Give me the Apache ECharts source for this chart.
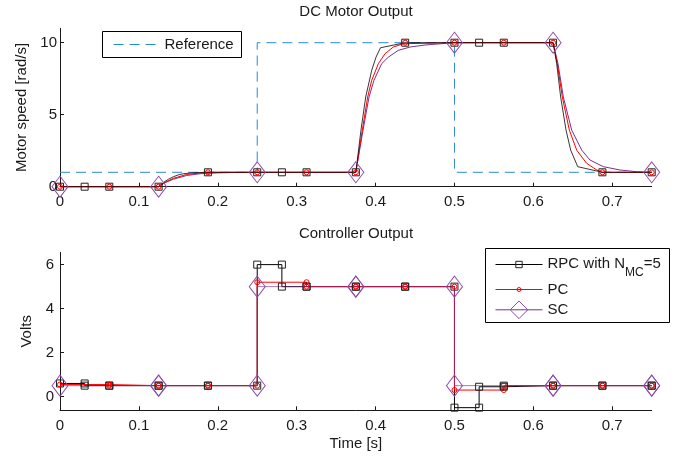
<!DOCTYPE html>
<html>
<head>
<meta charset="utf-8">
<script src="https://cdn.jsdelivr.net/npm/echarts@6/dist/echarts.min.js"></script>
<style>
  html, body { margin: 0; padding: 0; background: #fff; }
  #chart { width: 690px; height: 457px; }
</style>
</head>
<body>
<div id="chart"></div>
<script>
// Controller sample instants [s]
const rpcSampleTimes = [0, 0.03125, 0.0625, 0.125, 0.1875, 0.25, 0.28125, 0.3125, 0.375, 0.4375, 0.5, 0.53125, 0.5625, 0.625, 0.6875, 0.75];
const pcSampleTimes = [0, 0.0625, 0.125, 0.1875, 0.25, 0.3125, 0.375, 0.4375, 0.5, 0.5625, 0.625, 0.6875, 0.75];
const scSampleTimes = [0, 0.125, 0.25, 0.375, 0.5, 0.625, 0.75];

// Speed set-point [rad/s], held from each breakpoint to the next
const refTimes = [0, 0.25, 0.5, 0.75];
const refSpeed = [1, 10, 1, 1];

// Motor speed traces [rad/s]
const rpcSpeedTimes = [0, 0.03125, 0.0625, 0.125, 0.1313, 0.1375, 0.1437, 0.15, 0.15625, 0.169, 0.1875, 0.25, 0.28125, 0.3125, 0.375, 0.3815, 0.3875, 0.3951, 0.4006, 0.40625, 0.4375, 0.5, 0.53125, 0.5625, 0.625, 0.6296, 0.6346, 0.6414, 0.6473, 0.65625, 0.6875, 0.75];
const rpcSpeed      = [0, 0, 0, 0, 0.3, 0.52, 0.69, 0.82, 0.9, 0.97, 1, 1, 1, 1, 1, 3.93, 6.23, 8.08, 9.0, 9.65, 10, 10, 10, 10, 10, 8.54, 6.23, 3.93, 2.54, 1.39, 1, 1];

const pcSpeedTimes = [0, 0.0625, 0.125, 0.1331, 0.1437, 0.1606, 0.1775, 0.1875, 0.25, 0.3125, 0.375, 0.3832, 0.39, 0.3951, 0.4035, 0.412, 0.4225, 0.4352, 0.4375, 0.5, 0.5625, 0.625, 0.6304, 0.6367, 0.6456, 0.6549, 0.6676, 0.6803, 0.6875, 0.75];
const pcSpeed      = [0, 0, 0, 0.3, 0.58, 0.85, 0.95, 1, 1, 1, 1, 3.93, 6.23, 7.39, 8.54, 9.24, 9.7, 9.93, 10, 10, 10, 10, 8.54, 6.23, 3.93, 2.54, 1.62, 1.16, 1, 1];

const scSpeedTimes = [0, 0.125, 0.1331, 0.1437, 0.1606, 0.1775, 0.2, 0.22, 0.25, 0.375, 0.3841, 0.3917, 0.398, 0.4077, 0.4162, 0.4289, 0.4437, 0.4627, 0.488, 0.5, 0.625, 0.6312, 0.638, 0.6486, 0.6613, 0.6718, 0.6887, 0.7098, 0.731, 0.75];
const scSpeed      = [0, 0, 0.28, 0.52, 0.78, 0.9, 0.96, 0.99, 1, 1, 3.93, 6.23, 7.39, 8.54, 9.0, 9.47, 9.7, 9.84, 9.95, 10, 10, 8.54, 6.23, 3.93, 2.54, 1.85, 1.39, 1.16, 1.04, 1];

// Controller voltages [V] at the sample instants
const rpcVolts = [0.6, 0.5, 0.5, 0.5, 0.5, 6.0, 5.0, 5.0, 5.0, 5.0, -0.5, 0.45, 0.5, 0.5, 0.5, 0.5];
const pcVolts  = [0.55, 0.5, 0.5, 0.5, 5.2, 5.0, 5.0, 5.0, 0.3, 0.5, 0.5, 0.5, 0.5];
const scVolts  = [0.5, 0.5, 5.0, 5.0, 0.5, 0.5, 0.5];

// Tick labels
const timeTicks = [0, 0.1, 0.2, 0.3, 0.4, 0.5, 0.6, 0.7];
const speedTicks = [0, 5, 10];
const voltTicks = [0, 2, 4, 6];

const FONT = "'Liberation Sans', Arial, Helvetica, sans-serif";
const INK = '#1a1a1a';
const C_RPC = '#000000';
const C_PC = '#ff0000';
const C_SC = '#7e2f8e';
const C_SC_MARK = '#8e4aac';
const C_REF = '#2b8ad3';
const CLEAR = 'rgba(0,0,0,0)';

// Zero-order-hold expansion: a vertex on both sides of every switching instant
function stairs(times, values) {
  const pts = [[times[0], values[0]]];
  for (let i = 1; i < times.length; i++) {
    pts.push([times[i], values[i - 1]]);
    pts.push([times[i], values[i]]);
  }
  return pts;
}

// Continuous trace with a marker only at the controller sample instants
function trace(times, values, sampleTimes, symbol) {
  return times.map((t, i) => ({
    value: [t, values[i]],
    symbol: sampleTimes.indexOf(t) >= 0 ? symbol : 'none'
  }));
}

function xAxis(gridIndex, name) {
  return {
    type: 'value', gridIndex, min: 0, max: 0.75,
    axisLine: { show: true, onZero: false, lineStyle: { color: INK, width: 1 } },
    axisTick: { show: true, inside: true, length: 4, customValues: timeTicks, lineStyle: { color: INK } },
    axisLabel: { customValues: timeTicks, color: INK, fontSize: 15, fontFamily: FONT, margin: 8 },
    splitLine: { show: false },
    name: name || '', nameLocation: 'middle', nameGap: 26,
    nameTextStyle: { color: INK, fontSize: 15, fontFamily: FONT }
  };
}

function yAxis(gridIndex, min, max, ticks, name, nameGap, margin) {
  return {
    type: 'value', gridIndex, min, max,
    axisLine: { show: true, onZero: false, lineStyle: { color: INK, width: 1 } },
    axisTick: { show: true, inside: true, length: 4, customValues: ticks, lineStyle: { color: INK } },
    axisLabel: { customValues: ticks, color: INK, fontSize: 15, fontFamily: FONT, margin },
    splitLine: { show: false },
    name, nameLocation: 'middle', nameGap,
    nameTextStyle: { color: INK, fontSize: 15, fontFamily: FONT }
  };
}

function legendFor(name, top, itemHeight, markColor, extra) {
  return Object.assign({
    data: [name], left: 495, top, padding: 0, itemWidth: 47, itemHeight, z: 12,
    selectedMode: false,
    lineStyle: { width: 1, opacity: 1 },
    itemStyle: { color: CLEAR, borderColor: markColor, borderWidth: 1 },
    textStyle: { fontSize: 15, fontFamily: FONT, color: INK }
  }, extra || {});
}

const common = { type: 'line', clip: false, animation: false, emphasis: { disabled: true } };

const option = {
  animation: false,
  backgroundColor: '#fff',
  grid: [
    { left: 60, top: 28.3, width: 591.7, height: 158.4 },
    { left: 60, top: 252.3, width: 591.7, height: 158 }
  ],
  xAxis: [xAxis(0), xAxis(1, 'Time [s]')],
  yAxis: [
    yAxis(0, 0, 11, speedTicks, 'Motor speed [rad/s]', 30, 3),
    yAxis(1, -0.62, 6.56, voltTicks, 'Volts', 22, 6)
  ],
  graphic: [
    { type: 'text', x: 356, y: 12, z: 20,
      style: { text: 'DC Motor Output', textAlign: 'center', textVerticalAlign: 'middle', fontSize: 15, fontFamily: FONT, fill: INK } },
    { type: 'text', x: 356, y: 234, z: 20,
      style: { text: 'Controller Output', textAlign: 'center', textVerticalAlign: 'middle', fontSize: 15, fontFamily: FONT, fill: INK } },
    { type: 'rect', z: 10, shape: { x: 102.5, y: 31.5, width: 139, height: 26 },
      style: { fill: '#fff', stroke: '#000', lineWidth: 1 } },
    { type: 'rect', z: 10, shape: { x: 485.5, y: 248.5, width: 184, height: 74 },
      style: { fill: '#fff', stroke: '#000', lineWidth: 1 } }
  ],
  legend: [
    { data: ['Reference'], left: 113, top: 37, padding: 0, itemWidth: 46, itemHeight: 14, z: 12,
      selectedMode: false,
      lineStyle: { width: 1 },
      itemStyle: { color: CLEAR, borderColor: CLEAR, borderWidth: 0, opacity: 0 },
      textStyle: { fontSize: 15, fontFamily: FONT, color: INK } },
    legendFor('RPC', 256.5, 8, '#222', {
      formatter: () => '{m|RPC with N}{s|MC}{m|=5}',
      textStyle: { fontSize: 15, fontFamily: FONT, color: INK,
        rich: {
          m: { fontSize: 15, fontFamily: FONT, color: INK, lineHeight: 16, verticalAlign: 'top' },
          s: { fontSize: 12, fontFamily: FONT, color: INK, lineHeight: 12, verticalAlign: 'top', padding: [10, 0, 0, 0] }
        } }
    }),
    legendFor('PC', 282, 5, C_PC),
    legendFor('SC', 300.5, 22, C_SC_MARK)
  ],
  series: [
    // --- DC motor output ---
    Object.assign({}, common, {
      name: 'Reference', xAxisIndex: 0, yAxisIndex: 0, step: 'end', symbol: 'none',
      data: refTimes.map((t, i) => [t, refSpeed[i]]),
      lineStyle: { color: C_REF, width: 1, type: [10, 6] }, itemStyle: { color: CLEAR }
    }),
    Object.assign({}, common, {
      name: 'SC speed', xAxisIndex: 0, yAxisIndex: 0,
      symbol: 'diamond', symbolSize: [16, 21],
      data: trace(scSpeedTimes, scSpeed, scSampleTimes, 'diamond'),
      lineStyle: { color: C_SC, width: 1 },
      itemStyle: { color: CLEAR, borderColor: C_SC_MARK, borderWidth: 1 }
    }),
    Object.assign({}, common, {
      name: 'PC speed', xAxisIndex: 0, yAxisIndex: 0,
      symbol: 'circle', symbolSize: 5,
      data: trace(pcSpeedTimes, pcSpeed, pcSampleTimes, 'circle'),
      lineStyle: { color: C_PC, width: 1 },
      itemStyle: { color: CLEAR, borderColor: C_PC, borderWidth: 1 }
    }),
    Object.assign({}, common, {
      name: 'RPC speed', xAxisIndex: 0, yAxisIndex: 0,
      symbol: 'rect', symbolSize: 7,
      data: trace(rpcSpeedTimes, rpcSpeed, rpcSampleTimes, 'rect'),
      lineStyle: { color: C_RPC, width: 1, opacity: 0.78 },
      itemStyle: { color: CLEAR, borderColor: '#222', borderWidth: 1 }
    }),
    // --- Controller output ---
    Object.assign({}, common, {
      name: 'RPC', xAxisIndex: 1, yAxisIndex: 1,
      symbol: 'rect', symbolSize: 7,
      data: stairs(rpcSampleTimes, rpcVolts),
      lineStyle: { color: C_RPC, width: 1 },
      itemStyle: { color: CLEAR, borderColor: '#222', borderWidth: 1 }
    }),
    Object.assign({}, common, {
      name: 'PC', xAxisIndex: 1, yAxisIndex: 1,
      symbol: 'circle', symbolSize: 5,
      data: stairs(pcSampleTimes, pcVolts),
      lineStyle: { color: C_PC, width: 1 },
      itemStyle: { color: CLEAR, borderColor: C_PC, borderWidth: 1 }
    }),
    Object.assign({}, common, {
      name: 'SC', xAxisIndex: 1, yAxisIndex: 1,
      symbol: 'diamond', symbolSize: [16, 21],
      data: stairs(scSampleTimes, scVolts),
      lineStyle: { color: C_SC, width: 1, opacity: 0.65 },
      itemStyle: { color: CLEAR, borderColor: C_SC_MARK, borderWidth: 1 }
    })
  ]
};

const chart = echarts.init(document.getElementById('chart'), null, { renderer: 'canvas' });
chart.setOption(option);
</script>
</body>
</html>
